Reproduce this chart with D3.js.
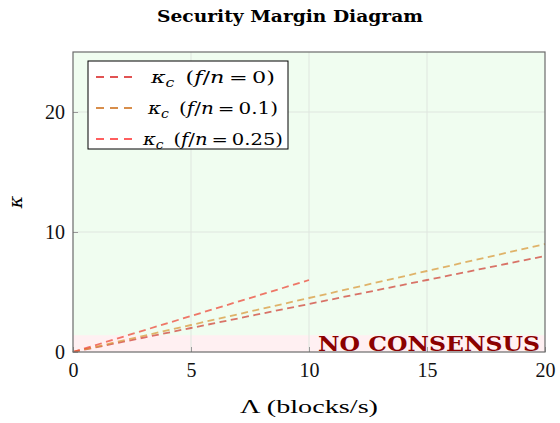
<!DOCTYPE html>
<html>
<head>
<meta charset="utf-8">
<script src="https://cdn.jsdelivr.net/npm/d3@7"></script>
<style>
  body { margin: 0; background: #fff; }
  text { font-family: "DejaVu Serif", "Liberation Serif", serif; }
</style>
</head>
<body>
<svg id="chart" width="560" height="423"></svg>
<script>
// data
var lambdaA = [0, 5, 10, 15, 20];
var kappaF0 = [0, 2, 4, 6, 8];
var kappaF01 = [0, 2.25, 4.5, 6.75, 9];
var lambdaC = [0, 5, 10];
var kappaF025 = [0, 3, 6];
var seriesNames = ["0", "0.1", "0.25"];
var xTicks = [0, 5, 10, 15, 20];
var yTicks = [0, 10, 20];
var noConsensusTop = 1.4;

var svg = d3.select("#chart");
var margin = { top: 52, right: 15, bottom: 71, left: 73 };
var width = 560 - margin.left - margin.right;
var height = 423 - margin.top - margin.bottom;

var g = svg.append("g")
  .attr("transform", "translate(" + margin.left + "," + margin.top + ")");

var x = d3.scaleLinear().domain([0, 20]).range([0, width]);
var y = d3.scaleLinear().domain([0, 25]).range([height, 0]);

// backgrounds
g.append("rect")
  .attr("width", width).attr("height", height)
  .attr("fill", "#f0fdf0");
g.append("rect")
  .attr("x", 0).attr("y", y(noConsensusTop))
  .attr("width", width).attr("height", y(0) - y(noConsensusTop))
  .attr("fill", "#fff0f2");

// grid
g.selectAll(".gx").data(xTicks.slice(1, -1)).enter().append("line")
  .attr("x1", function(d) { return x(d); }).attr("x2", function(d) { return x(d); })
  .attr("y1", 0).attr("y2", height)
  .attr("stroke", "#dfe6df").attr("stroke-width", 1);
g.selectAll(".gy").data(yTicks.slice(1)).enter().append("line")
  .attr("x1", 0).attr("x2", width)
  .attr("y1", function(d) { return y(d); }).attr("y2", function(d) { return y(d); })
  .attr("stroke", "#dfe6df").attr("stroke-width", 1);

g.append("text")
  .attr("x", width - 5).attr("y", height - 1)
  .attr("text-anchor", "end")
  .attr("fill", "#8b0000")
  .attr("textLength", 222)
  .attr("lengthAdjust", "spacingAndGlyphs")
  .style("font-weight", "bold")
  .style("font-size", "21px")
  .text("NO CONSENSUS");

// lines
var line = d3.line()
  .x(function(d) { return x(d[0]); })
  .y(function(d) { return y(d[1]); });

var series = [
  { pts: d3.zip(lambdaA, kappaF0), color: "#d0443a", legend: "#d81b1b" },
  { pts: d3.zip(lambdaA, kappaF01), color: "#d99a3c", legend: "#cc6a10" },
  { pts: d3.zip(lambdaC, kappaF025), color: "#ee4a3a", legend: "#ff2a2a" }
];

series.forEach(function(s) {
  g.append("path")
    .attr("d", line(s.pts))
    .attr("fill", "none")
    .attr("stroke", s.color)
    .attr("stroke-opacity", 0.75)
    .attr("stroke-width", 1.8)
    .attr("stroke-dasharray", "7,4.5");
});

// axes
var xAxis = d3.axisBottom(x).tickValues(xTicks).tickSizeInner(-5).tickSizeOuter(0).tickPadding(8);
var yAxis = d3.axisLeft(y).tickValues(yTicks).tickSizeInner(-5).tickSizeOuter(0).tickPadding(8);

var gx = g.append("g").attr("transform", "translate(0," + height + ")").call(xAxis);
var gy = g.append("g").call(yAxis);
[gx, gy].forEach(function(a) {
  a.select(".domain").remove();
  a.selectAll("line").attr("stroke", "#999");
  a.selectAll("text").style("font-size", "20px").style("font-family", "'Liberation Serif', serif").attr("fill", "#111");
});
gx.selectAll("text").attr("dy", "0.85em");

g.append("rect")
  .attr("width", width).attr("height", height)
  .attr("fill", "none")
  .attr("stroke", "#6b6b6b")
  .attr("stroke-width", 1.2);

// titles
svg.append("text")
  .attr("x", 290).attr("y", 22)
  .attr("text-anchor", "middle")
  .attr("textLength", 266)
  .attr("lengthAdjust", "spacingAndGlyphs")
  .style("font-size", "16px")
  .style("font-weight", "bold")
  .text("Security Margin Diagram");

svg.append("text")
  .attr("x", 309).attr("y", 413)
  .attr("text-anchor", "middle")
  .attr("textLength", 138)
  .attr("lengthAdjust", "spacingAndGlyphs")
  .style("font-size", "18px")
  .style("font-family", "'Liberation Serif', serif")
  .text("Λ (blocks/s)");

svg.append("text")
  .attr("transform", "translate(22,202) rotate(-90)")
  .attr("text-anchor", "middle")
  .style("font-size", "19px")
  .style("font-style", "italic")
  .text("κ");

// legend
var lg = svg.append("g").attr("transform", "translate(88,61)");
lg.append("rect")
  .attr("width", 200).attr("height", 88)
  .attr("fill", "#fff").attr("stroke", "#000").attr("stroke-width", 1);

var legendWidths = [124, 130, 140];
series.forEach(function(s, i) {
  var yy = 16 + i * 31;
  lg.append("line")
    .attr("x1", 8).attr("x2", 44)
    .attr("y1", yy).attr("y2", yy)
    .attr("stroke", s.legend).attr("stroke-width", 1.6)
    .attr("stroke-dasharray", "8,6");
  var t = lg.append("text")
    .attr("x", 125).attr("y", yy + 6)
    .attr("text-anchor", "middle")
    .attr("textLength", legendWidths[i])
    .attr("lengthAdjust", "spacingAndGlyphs")
    .style("font-size", "17px");
  t.append("tspan").style("font-style", "italic").text("κ");
  t.append("tspan").style("font-style", "italic").style("font-size", "12px").attr("dy", 4).text("c");
  t.append("tspan").attr("dy", -4).text("\u2002(");
  t.append("tspan").style("font-style", "italic").text("f");
  t.append("tspan").text("/");
  t.append("tspan").style("font-style", "italic").text("n");
  t.append("tspan").text("\u2009=\u2009" + seriesNames[i] + ")");
});
</script>
</body>
</html>
